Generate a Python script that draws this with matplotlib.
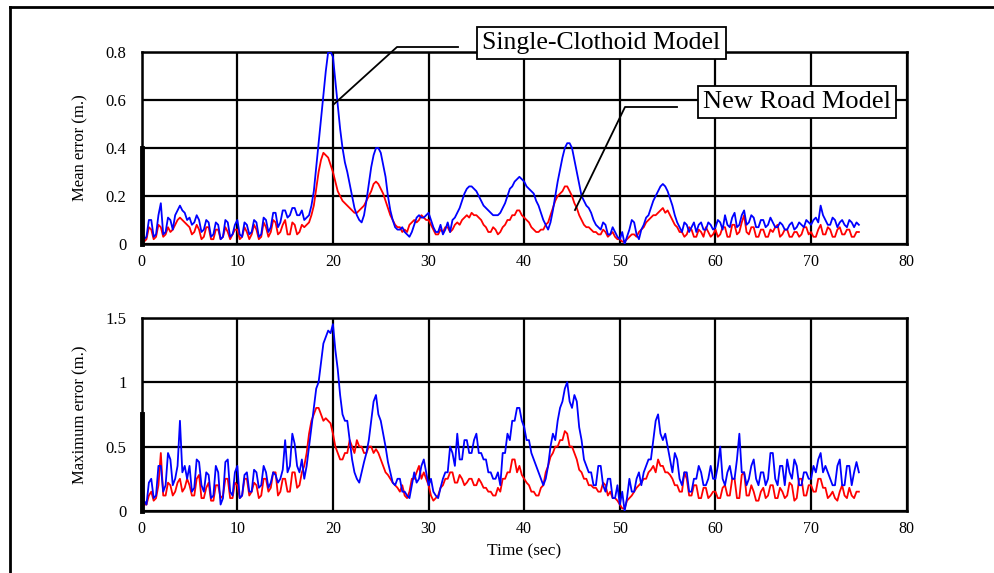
import numpy as np
import matplotlib
matplotlib.use("Agg")
import matplotlib.pyplot as plt
from matplotlib.lines import Line2D

plt.rcParams['font.family'] = ['Liberation Serif', 'DejaVu Serif']

# Values sampled every 0.25 s from 0 to 75 s (20 values per 5-second row)
# Mean error (m.) - Single-Clothoid Model
mean_single = [
    0.08, 0.02, 0.03, 0.10, 0.10, 0.03, 0.04, 0.12, 0.17, 0.04, 0.05, 0.11, 0.10, 0.06, 0.12, 0.14, 0.16, 0.14, 0.13, 0.10,
    0.11, 0.08, 0.09, 0.12, 0.10, 0.05, 0.06, 0.10, 0.09, 0.03, 0.04, 0.09, 0.08, 0.02, 0.03, 0.10, 0.09, 0.03, 0.04, 0.08,
    0.10, 0.04, 0.03, 0.09, 0.08, 0.04, 0.05, 0.10, 0.09, 0.03, 0.04, 0.11, 0.10, 0.05, 0.07, 0.13, 0.13, 0.07, 0.09, 0.14,
    0.14, 0.11, 0.12, 0.15, 0.15, 0.12, 0.12, 0.14, 0.10, 0.11, 0.12, 0.16, 0.22, 0.32, 0.42, 0.52, 0.62, 0.72, 0.80, 0.80,
    0.78, 0.68, 0.58, 0.48, 0.40, 0.34, 0.30, 0.25, 0.20, 0.15, 0.12, 0.10, 0.09, 0.12, 0.18, 0.25, 0.32, 0.37, 0.40, 0.40,
    0.38, 0.33, 0.28, 0.20, 0.14, 0.10, 0.07, 0.06, 0.06, 0.07, 0.05, 0.04, 0.03, 0.05, 0.08, 0.11, 0.12, 0.11, 0.11, 0.12,
    0.13, 0.10, 0.07, 0.05, 0.05, 0.08, 0.04, 0.06, 0.09, 0.05, 0.10, 0.11, 0.13, 0.15, 0.18, 0.21, 0.23, 0.24, 0.24, 0.23,
    0.22, 0.20, 0.18, 0.16, 0.15, 0.14, 0.13, 0.12, 0.12, 0.12, 0.13, 0.15, 0.17, 0.20, 0.23, 0.24, 0.26, 0.27, 0.28, 0.27,
    0.26, 0.24, 0.23, 0.22, 0.21, 0.18, 0.16, 0.13, 0.10, 0.08, 0.06, 0.09, 0.14, 0.20, 0.26, 0.31, 0.36, 0.40, 0.42, 0.42,
    0.40, 0.35, 0.30, 0.25, 0.20, 0.18, 0.16, 0.15, 0.13, 0.10, 0.08, 0.07, 0.06, 0.09, 0.08, 0.04, 0.04, 0.07, 0.05, 0.03,
    0.02, 0.05, 0.00, 0.03, 0.06, 0.10, 0.09, 0.04, 0.02, 0.06, 0.08, 0.11, 0.12, 0.15, 0.18, 0.20, 0.22, 0.24, 0.25, 0.24,
    0.22, 0.19, 0.16, 0.12, 0.09, 0.07, 0.05, 0.09, 0.08, 0.05, 0.07, 0.09, 0.05, 0.08, 0.09, 0.06, 0.06, 0.09, 0.08, 0.06,
    0.07, 0.10, 0.09, 0.06, 0.12, 0.08, 0.07, 0.11, 0.13, 0.07, 0.08, 0.12, 0.14, 0.08, 0.09, 0.12, 0.11, 0.07, 0.07, 0.10,
    0.10, 0.07, 0.08, 0.11, 0.09, 0.07, 0.07, 0.09, 0.08, 0.06, 0.06, 0.08, 0.09, 0.06, 0.07, 0.09, 0.08, 0.07, 0.10, 0.09,
    0.08, 0.10, 0.11, 0.09, 0.16, 0.12, 0.10, 0.08, 0.08, 0.11, 0.10, 0.07, 0.09, 0.10, 0.08, 0.07, 0.10, 0.09, 0.07, 0.09,
    0.08]

# Mean error (m.) - New Road Model
mean_new = [
    0.04, 0.01, 0.02, 0.07, 0.06, 0.02, 0.03, 0.08, 0.07, 0.03, 0.04, 0.07, 0.05, 0.06, 0.08, 0.10, 0.11, 0.10, 0.09, 0.08,
    0.07, 0.04, 0.05, 0.08, 0.06, 0.02, 0.03, 0.07, 0.07, 0.02, 0.02, 0.06, 0.06, 0.02, 0.03, 0.07, 0.05, 0.02, 0.04, 0.06,
    0.06, 0.02, 0.03, 0.07, 0.05, 0.02, 0.04, 0.08, 0.06, 0.02, 0.03, 0.09, 0.07, 0.03, 0.05, 0.10, 0.09, 0.04, 0.05, 0.08,
    0.10, 0.04, 0.04, 0.09, 0.08, 0.04, 0.05, 0.08, 0.07, 0.08, 0.09, 0.12, 0.16, 0.23, 0.30, 0.35, 0.38, 0.37, 0.36, 0.33,
    0.30, 0.26, 0.22, 0.20, 0.18, 0.17, 0.16, 0.15, 0.14, 0.13, 0.13, 0.14, 0.15, 0.16, 0.18, 0.20, 0.22, 0.25, 0.26, 0.25,
    0.23, 0.21, 0.18, 0.15, 0.12, 0.10, 0.08, 0.07, 0.07, 0.05, 0.06, 0.05, 0.08, 0.09, 0.10, 0.09, 0.10, 0.12, 0.11, 0.10,
    0.10, 0.08, 0.06, 0.04, 0.04, 0.06, 0.05, 0.07, 0.07, 0.05, 0.06, 0.08, 0.09, 0.08, 0.10, 0.11, 0.12, 0.11, 0.13, 0.12,
    0.12, 0.11, 0.10, 0.08, 0.07, 0.05, 0.05, 0.07, 0.06, 0.04, 0.05, 0.07, 0.08, 0.10, 0.10, 0.12, 0.12, 0.14, 0.14, 0.12,
    0.11, 0.10, 0.09, 0.07, 0.06, 0.05, 0.05, 0.06, 0.06, 0.08, 0.09, 0.12, 0.15, 0.18, 0.20, 0.21, 0.22, 0.24, 0.24, 0.22,
    0.20, 0.17, 0.15, 0.12, 0.10, 0.08, 0.07, 0.07, 0.06, 0.05, 0.05, 0.04, 0.04, 0.06, 0.05, 0.03, 0.04, 0.05, 0.03, 0.02,
    0.02, 0.01, 0.01, 0.02, 0.03, 0.04, 0.04, 0.03, 0.05, 0.06, 0.07, 0.09, 0.10, 0.11, 0.12, 0.12, 0.13, 0.14, 0.15, 0.13,
    0.14, 0.12, 0.10, 0.08, 0.07, 0.05, 0.05, 0.03, 0.04, 0.07, 0.06, 0.03, 0.03, 0.06, 0.05, 0.03, 0.07, 0.05, 0.03, 0.04,
    0.06, 0.03, 0.04, 0.07, 0.07, 0.03, 0.03, 0.08, 0.08, 0.04, 0.05, 0.09, 0.12, 0.05, 0.04, 0.07, 0.07, 0.03, 0.03, 0.06,
    0.06, 0.03, 0.03, 0.06, 0.05, 0.07, 0.08, 0.03, 0.04, 0.06, 0.06, 0.03, 0.03, 0.05, 0.05, 0.03, 0.04, 0.07, 0.07, 0.04,
    0.05, 0.03, 0.03, 0.06, 0.08, 0.04, 0.04, 0.07, 0.06, 0.03, 0.03, 0.06, 0.07, 0.04, 0.04, 0.06, 0.06, 0.03, 0.03, 0.05,
    0.05]

# Maximum error (m.) - Single-Clothoid Model
max_single = [
    0.30, 0.08, 0.05, 0.22, 0.25, 0.10, 0.12, 0.35, 0.35, 0.15, 0.20, 0.45, 0.40, 0.20, 0.25, 0.35, 0.70, 0.30, 0.35, 0.25,
    0.35, 0.15, 0.18, 0.40, 0.38, 0.20, 0.15, 0.30, 0.28, 0.10, 0.12, 0.35, 0.30, 0.05, 0.10, 0.38, 0.40, 0.15, 0.12, 0.30,
    0.35, 0.10, 0.12, 0.28, 0.30, 0.15, 0.15, 0.32, 0.30, 0.18, 0.20, 0.35, 0.30, 0.18, 0.22, 0.30, 0.28, 0.22, 0.25, 0.32,
    0.55, 0.30, 0.35, 0.60, 0.52, 0.35, 0.30, 0.40, 0.25, 0.35, 0.50, 0.65, 0.80, 0.95, 1.00, 1.15, 1.30, 1.35, 1.40, 1.38,
    1.45, 1.25, 1.10, 0.90, 0.75, 0.70, 0.70, 0.55, 0.40, 0.30, 0.25, 0.22, 0.30, 0.38, 0.45, 0.55, 0.70, 0.85, 0.90, 0.75,
    0.70, 0.60, 0.50, 0.38, 0.30, 0.22, 0.20, 0.25, 0.25, 0.15, 0.15, 0.12, 0.10, 0.20, 0.30, 0.22, 0.25, 0.35, 0.40, 0.30,
    0.20, 0.25, 0.15, 0.12, 0.10, 0.18, 0.25, 0.30, 0.30, 0.50, 0.45, 0.35, 0.60, 0.40, 0.40, 0.55, 0.55, 0.45, 0.45, 0.55,
    0.60, 0.45, 0.45, 0.40, 0.40, 0.30, 0.30, 0.25, 0.25, 0.30, 0.20, 0.45, 0.45, 0.60, 0.55, 0.70, 0.70, 0.80, 0.80, 0.70,
    0.65, 0.55, 0.55, 0.45, 0.40, 0.35, 0.30, 0.25, 0.20, 0.25, 0.35, 0.50, 0.60, 0.55, 0.70, 0.80, 0.85, 0.95, 1.00, 0.85,
    0.80, 0.90, 0.85, 0.65, 0.55, 0.40, 0.35, 0.30, 0.30, 0.20, 0.20, 0.35, 0.35, 0.20, 0.15, 0.25, 0.25, 0.10, 0.10, 0.20,
    0.05, 0.15, 0.00, 0.10, 0.25, 0.15, 0.15, 0.25, 0.30, 0.20, 0.30, 0.35, 0.40, 0.40, 0.55, 0.70, 0.75, 0.60, 0.55, 0.60,
    0.50, 0.40, 0.30, 0.45, 0.40, 0.25, 0.20, 0.30, 0.30, 0.15, 0.15, 0.25, 0.25, 0.35, 0.30, 0.20, 0.20, 0.25, 0.35, 0.25,
    0.25, 0.35, 0.50, 0.25, 0.20, 0.30, 0.35, 0.25, 0.25, 0.40, 0.60, 0.30, 0.30, 0.20, 0.25, 0.35, 0.40, 0.25, 0.20, 0.30,
    0.30, 0.20, 0.25, 0.45, 0.45, 0.25, 0.20, 0.35, 0.35, 0.20, 0.40, 0.30, 0.25, 0.40, 0.35, 0.20, 0.20, 0.30, 0.30, 0.25,
    0.25, 0.35, 0.30, 0.40, 0.45, 0.30, 0.35, 0.30, 0.25, 0.20, 0.20, 0.35, 0.40, 0.20, 0.20, 0.35, 0.35, 0.20, 0.30, 0.38,
    0.30]

# Maximum error (m.) - New Road Model
max_new = [
    0.10, 0.05, 0.05, 0.12, 0.15, 0.08, 0.10, 0.20, 0.45, 0.12, 0.12, 0.22, 0.20, 0.12, 0.15, 0.22, 0.25, 0.15, 0.18, 0.25,
    0.20, 0.12, 0.12, 0.25, 0.28, 0.10, 0.10, 0.18, 0.22, 0.08, 0.08, 0.20, 0.20, 0.10, 0.12, 0.25, 0.25, 0.10, 0.10, 0.22,
    0.20, 0.10, 0.12, 0.25, 0.25, 0.12, 0.15, 0.22, 0.20, 0.10, 0.12, 0.25, 0.25, 0.15, 0.18, 0.30, 0.30, 0.12, 0.15, 0.25,
    0.25, 0.15, 0.15, 0.30, 0.30, 0.18, 0.20, 0.30, 0.35, 0.45, 0.60, 0.70, 0.75, 0.80, 0.80, 0.75, 0.70, 0.72, 0.70, 0.68,
    0.60, 0.50, 0.45, 0.40, 0.40, 0.45, 0.45, 0.55, 0.50, 0.45, 0.55, 0.50, 0.50, 0.45, 0.45, 0.50, 0.50, 0.45, 0.48, 0.45,
    0.40, 0.35, 0.30, 0.28, 0.25, 0.22, 0.20, 0.18, 0.15, 0.20, 0.12, 0.10, 0.15, 0.25, 0.25, 0.30, 0.35, 0.25, 0.30, 0.25,
    0.20, 0.12, 0.08, 0.10, 0.12, 0.18, 0.20, 0.25, 0.25, 0.30, 0.30, 0.22, 0.22, 0.28, 0.25, 0.20, 0.22, 0.25, 0.25, 0.20,
    0.20, 0.25, 0.22, 0.18, 0.18, 0.15, 0.15, 0.12, 0.12, 0.18, 0.15, 0.25, 0.25, 0.30, 0.30, 0.40, 0.40, 0.30, 0.35, 0.28,
    0.25, 0.22, 0.20, 0.15, 0.15, 0.12, 0.12, 0.18, 0.20, 0.30, 0.35, 0.42, 0.45, 0.50, 0.50, 0.55, 0.55, 0.62, 0.60, 0.50,
    0.50, 0.45, 0.40, 0.32, 0.30, 0.25, 0.25, 0.20, 0.20, 0.18, 0.18, 0.15, 0.15, 0.22, 0.20, 0.12, 0.15, 0.10, 0.10, 0.08,
    0.05, 0.02, 0.02, 0.08, 0.10, 0.12, 0.15, 0.18, 0.20, 0.22, 0.25, 0.25, 0.30, 0.32, 0.35, 0.30, 0.40, 0.35, 0.35, 0.30,
    0.30, 0.28, 0.25, 0.20, 0.20, 0.15, 0.15, 0.30, 0.25, 0.12, 0.12, 0.20, 0.20, 0.10, 0.10, 0.18, 0.18, 0.10, 0.12, 0.15,
    0.15, 0.10, 0.10, 0.18, 0.20, 0.12, 0.12, 0.25, 0.25, 0.10, 0.10, 0.28, 0.30, 0.12, 0.12, 0.20, 0.15, 0.08, 0.08, 0.15,
    0.18, 0.10, 0.12, 0.20, 0.20, 0.10, 0.10, 0.18, 0.15, 0.10, 0.12, 0.22, 0.20, 0.08, 0.10, 0.25, 0.25, 0.12, 0.12, 0.20,
    0.20, 0.15, 0.15, 0.25, 0.25, 0.18, 0.18, 0.10, 0.12, 0.15, 0.10, 0.08, 0.15, 0.20, 0.12, 0.10, 0.18, 0.12, 0.10, 0.15,
    0.15]

t_start, t_end = 0, 75
x_ticks = [0, 10, 20, 30, 40, 50, 60, 70, 80]
top_yticks = [0, 0.2, 0.4, 0.6, 0.8]
top_ylabels = ["0", "0.2", "0.4", "0.6", "0.8"]
bot_yticks = [0, 0.5, 1.0, 1.5]
bot_ylabels = ["0", "0.5", "1", "1.5"]

W, H = 994, 573
fig = plt.figure(figsize=(W / 100, H / 100), dpi=100)

def px(x, y):
    return x / W, 1 - y / H

ax1 = fig.add_axes([141.7 / W, 1 - 244 / H, (906.7 - 141.7) / W, 192 / H])
ax2 = fig.add_axes([141.7 / W, 1 - 511 / H, (906.7 - 141.7) / W, (511 - 317.7) / H])

for ax, s1, s2, yt, yl, ylim, ylab in [
        (ax1, mean_single, mean_new, top_yticks, top_ylabels, 0.8, "Mean error (m.)"),
        (ax2, max_single, max_new, bot_yticks, bot_ylabels, 1.5, "Maximum error (m.)")]:
    t1 = np.linspace(t_start, t_end, len(s1))
    t2 = np.linspace(t_start, t_end, len(s2))
    ax.plot(t2, s2, color="#ff0000", lw=1.3, zorder=3)
    ax.plot(t1, s1, color="#0000ff", lw=1.3, zorder=4)
    ax.set_xlim(0, 80)
    ax.set_ylim(0, ylim)
    ax.set_xticks(x_ticks)
    ax.set_xticklabels([str(v) for v in x_ticks])
    ax.set_yticks(yt)
    ax.set_yticklabels(yl)
    ax.grid(True, color="black", lw=1.6)
    ax.set_axisbelow(True)
    for sp in ax.spines.values():
        sp.set_linewidth(1.8)
        sp.set_color("black")
    ax.tick_params(length=0, labelsize=11.5, pad=7)
    ax.tick_params(axis="y", labelsize=12, pad=11)
    ax.set_ylabel(ylab, fontsize=12, labelpad=12)
    ax.axvline(0, ymin=0, ymax=0.5, color="black", lw=3.5, zorder=5, clip_on=False)

ax2.set_xlabel("Time (sec)", fontsize=12.5, labelpad=5)

# outer border
fig.add_artist(Line2D([10 / W, 10 / W], [0, 1 - 7 / H], color="black", lw=2))
fig.add_artist(Line2D([10 / W, 1], [1 - 7 / H, 1 - 7 / H], color="black", lw=2))

# annotation leader lines
xs, ys = zip(px(333, 105), px(397, 47), px(458, 47))
fig.add_artist(Line2D(xs, ys, color="black", lw=1.3))
xs, ys = zip(px(575, 210), px(625, 107), px(677, 107))
fig.add_artist(Line2D(xs, ys, color="black", lw=1.3))

bx = dict(boxstyle="square,pad=0.2", fc="white", ec="black", lw=1.3)
fig.text(*px(601.5, 43), "Single-Clothoid Model", fontsize=18.5, ha="center",
         va="center", bbox=bx)
fig.text(*px(797, 102), "New Road Model", fontsize=19, ha="center",
         va="center", bbox=bx)

fig.savefig("out.png", dpi=100)
